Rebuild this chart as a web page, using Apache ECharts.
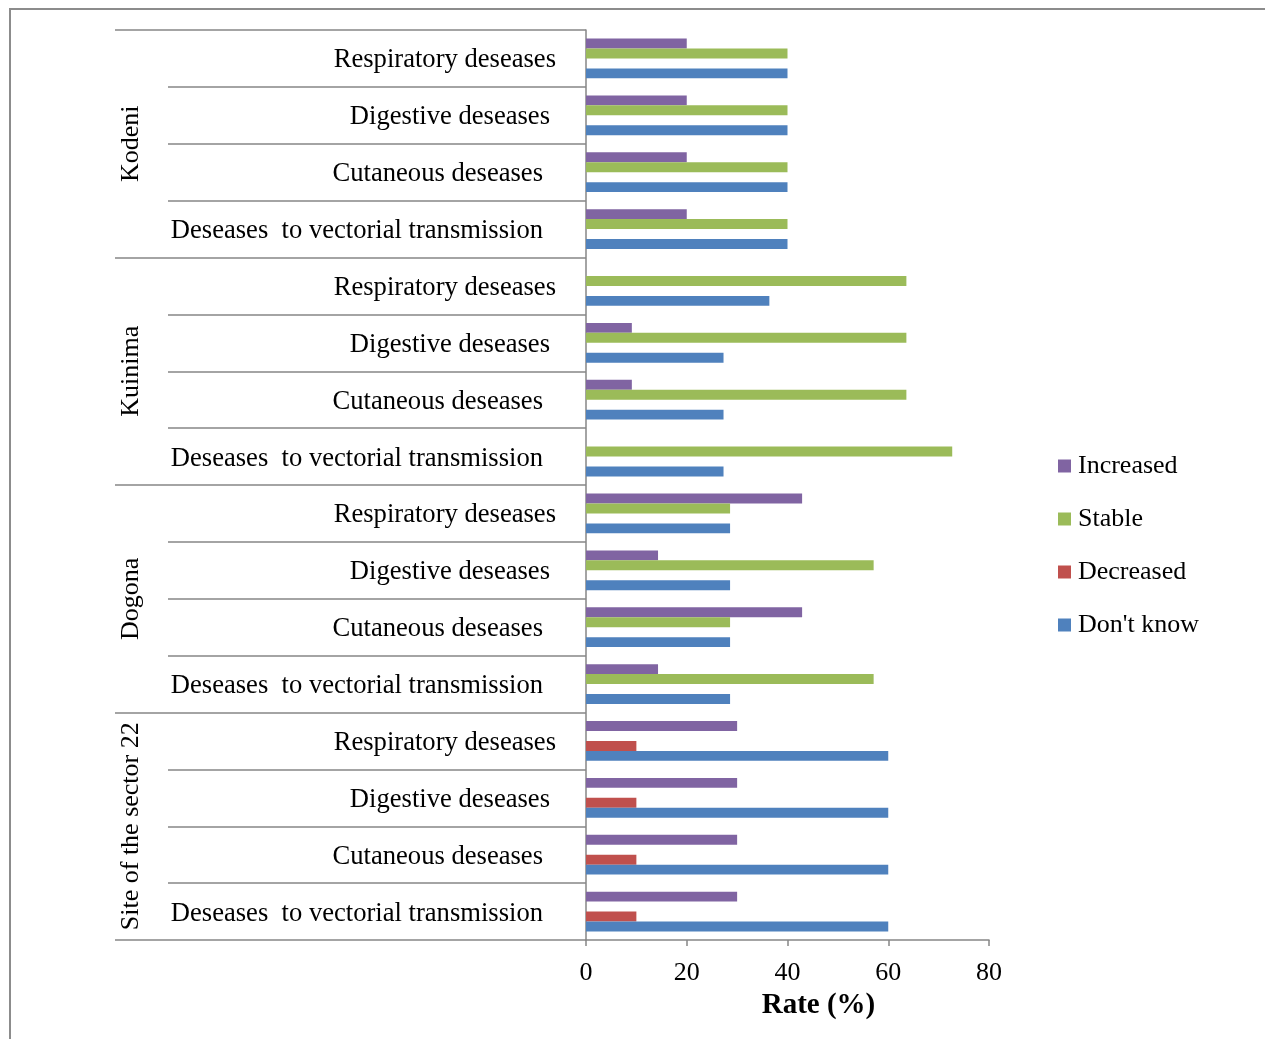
<!DOCTYPE html>
<html>
<head>
<meta charset="utf-8">
<script src="https://cdn.jsdelivr.net/npm/echarts@6/dist/echarts.min.js"></script>
<style>
  html, body { margin: 0; padding: 0; background: #fff; }
  #chart { width: 1265px; height: 1039px; }
</style>
</head>
<body>
<div id="chart"></div>
<script>
// Sites (outer level of the category axis), top to bottom
const sites = ['Kodeni', 'Kuinima', 'Dogona', 'Site of the sector 22'];
// Disease types repeated inside each site
const diseases = ['Respiratory deseases', 'Digestive deseases', 'Cutaneous deseases', 'Deseases  to vectorial transmission'];
const diseaseKeys = ['r', 'd', 'c', 'v'];

// Rate (%) per site/disease, same order as the categories (top to bottom)
const increased = [20, 20, 20, 20,   0, 9.1, 9.1, 0,      42.9, 14.3, 42.9, 14.3,   30, 30, 30, 30];
const stable    = [40, 40, 40, 40,   63.6, 63.6, 63.6, 72.7,   28.6, 57.1, 28.6, 57.1,   0, 0, 0, 0];
const decreased = [0, 0, 0, 0,       0, 0, 0, 0,          0, 0, 0, 0,               10, 10, 10, 10];
const dontKnow  = [40, 40, 40, 40,   36.4, 27.3, 27.3, 27.3,   28.6, 28.6, 28.6, 28.6,   60, 60, 60, 60];

const xTicks = { min: 0, max: 80, interval: 20 };

const categories = [];
sites.forEach(function (s, i) {
  diseases.forEach(function (d, j) { categories.push(i + '|' + j); });
});

const FONT = '"Liberation Serif", "Times New Roman", serif';
const AXIS_GRAY = '#868686';
const FS = 26;
const CAT_FS = 26.6;

const chart = echarts.init(document.getElementById('chart'), null, { renderer: 'canvas' });

function barSeries(name, data, color) {
  return {
    name: name,
    type: 'bar',
    data: data,
    barGap: '0%',
    barCategoryGap: '30%',
    itemStyle: { color: color },
    emphasis: { disabled: true }
  };
}

function richLabel(padRight) {
  return { fontFamily: FONT, fontSize: CAT_FS, color: '#000', padding: [4, padRight, 0, 0] };
}

chart.setOption({
  animation: false,
  backgroundColor: '#fff',
  textStyle: { fontFamily: FONT },
  graphic: [{
    type: 'polyline',
    shape: { points: [[10, 1039], [10, 9], [1265, 9]] },
    style: { stroke: '#8c8c8c', lineWidth: 2, fill: null },
    silent: true
  }],
  grid: { left: 586, right: 276, top: 30, bottom: 99 },
  legend: {
    orient: 'vertical',
    left: 1053,
    top: 448,
    itemWidth: 13,
    itemHeight: 13,
    itemGap: 27,
    icon: 'rect',
    data: ['Increased', 'Stable', 'Decreased', "Don't know"],
    textStyle: { fontFamily: FONT, fontSize: FS, color: '#000', padding: [0, 0, 0, 2] }
  },
  xAxis: {
    type: 'value',
    min: xTicks.min,
    max: xTicks.max,
    interval: xTicks.interval,
    splitLine: { show: false },
    axisLine: { show: true, lineStyle: { color: AXIS_GRAY, width: 1.5 } },
    axisTick: { show: true, length: 6, lineStyle: { color: AXIS_GRAY, width: 1.5 } },
    axisLabel: { fontFamily: FONT, fontSize: FS, color: '#000', margin: 20 },
    name: 'Rate (%)',
    nameLocation: 'middle',
    nameGap: 51,
    nameTextStyle: { fontFamily: FONT, fontSize: 29, fontWeight: 'bold', color: '#000', padding: [0, 0, 0, 62] }
  },
  yAxis: [{
    type: 'category',
    inverse: true,
    data: categories,
    axisLine: { show: true, lineStyle: { color: AXIS_GRAY, width: 1.5 } },
    axisTick: { show: true, interval: 0, length: 418, lineStyle: { color: AXIS_GRAY, width: 1.5 } },
    axisLabel: {
      interval: 0,
      margin: 30,
      align: 'right',
      fontFamily: FONT,
      fontSize: CAT_FS,
      color: '#000',
      formatter: function (v) {
        const j = +v.split('|')[1];
        return '{' + diseaseKeys[j] + '|' + diseases[j] + '}';
      },
      rich: { r: richLabel(0), d: richLabel(6), c: richLabel(13), v: richLabel(13) }
    }
  }, {
    type: 'category',
    inverse: true,
    position: 'left',
    data: sites,
    axisLine: { show: false },
    axisTick: { show: true, interval: 0, length: 471, lineStyle: { color: AXIS_GRAY, width: 1.5 } },
    axisLabel: {
      interval: 0,
      rotate: 90,
      margin: 442,
      fontFamily: FONT,
      fontSize: FS,
      color: '#000'
    }
  }],
  series: [
    barSeries('Increased', increased, '#8064A2'),
    barSeries('Stable', stable, '#9BBB59'),
    barSeries('Decreased', decreased, '#C0504D'),
    barSeries("Don't know", dontKnow, '#4F81BD')
  ]
});
</script>
</body>
</html>
